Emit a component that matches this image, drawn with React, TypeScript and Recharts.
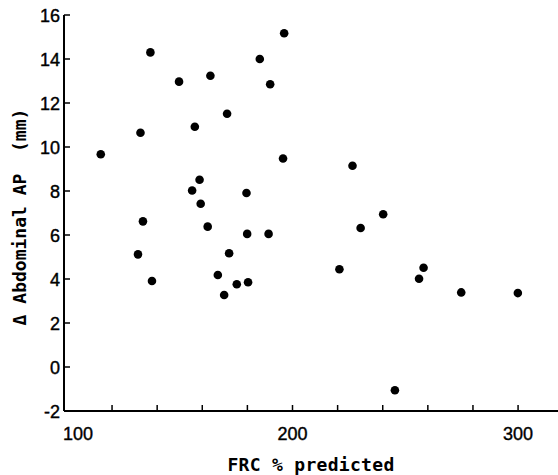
import { ScatterChart, Scatter, XAxis, YAxis } from 'recharts';

// FRC % predicted vs change in abdominal AP diameter
const frcPredicted = [
  115, 137, 132.6, 149.7, 163.6, 156.7, 171, 185.5, 190.1, 155.5, 158.8, 159.3,
  179.6, 133.7, 162.4, 179.9, 189.4, 131.5, 137.7, 166.9, 171.9, 169.7, 175.3,
  180.3, 196.3, 195.8, 226.6, 240.2, 230.2, 220.8, 256.1, 258.1, 274.8, 299.9, 245.4,
];
const deltaAbdominalAP = [
  9.67, 14.3, 10.65, 12.97, 13.24, 10.92, 11.51, 14.0, 12.85, 8.02, 8.51, 7.42,
  7.91, 6.62, 6.38, 6.05, 6.05, 5.12, 3.91, 4.18, 5.17, 3.27, 3.76,
  3.85, 15.17, 9.48, 9.15, 6.94, 6.32, 4.44, 4.01, 4.51, 3.39, 3.36, -1.06,
];
const xTicks = [100, 120, 140, 160, 180, 200, 220, 240, 260, 280, 300];
const xLabelled = [100, 200, 300];
const yTicks = [-2, 0, 2, 4, 6, 8, 10, 12, 14, 16];

const data = frcPredicted.map((x, i) => ({ x, y: deltaAbdominalAP[i] }));

const tickFont = '"Liberation Sans", Arial, sans-serif';
const labelFont = '"DejaVu Sans Mono", monospace';

const XTick = ({ x, y, payload }: any) => {
  const v = payload.value;
  return (
    <g>
      {v !== 100 && <line x1={x} x2={x} y1={y} y2={y - 6} stroke="#000" strokeWidth={1.5} />}
      {xLabelled.includes(v) && (
        <text
          x={v === 100 ? x + 11 : x}
          y={y + 29}
          textAnchor="middle"
          fontFamily={tickFont}
          fontSize={18}
          fill="#000"
          stroke="#000"
          strokeWidth={0.4}
        >
          {v}
        </text>
      )}
    </g>
  );
};

const YTick = ({ x, y, payload }: any) => {
  const v = payload.value;
  return (
    <g>
      {v !== -2 && <line x1={x} x2={x + 6} y1={y} y2={y} stroke="#000" strokeWidth={1.5} />}
      <text
        x={x - 4}
        y={y + 6.5}
        textAnchor="end"
        fontFamily={tickFont}
        fontSize={18}
        fill="#000"
        stroke="#000"
        strokeWidth={0.4}
      >
        {v}
      </text>
    </g>
  );
};

const YLabel = ({ viewBox }: any) => {
  const cx = viewBox.x + 19;
  const cy = viewBox.y + viewBox.height / 2 + 4;
  return (
    <text
      x={cx}
      y={cy}
      transform={`rotate(-90, ${cx}, ${cy})`}
      textAnchor="middle"
      dominantBaseline="central"
      fontFamily={labelFont}
      fontWeight="bold"
      fontSize={18}
      fill="#000"
      style={{ whiteSpace: 'pre' }}
    >
      {'Δ Abdominal AP  (mm)'}
    </text>
  );
};

const XLabel = ({ viewBox }: any) => (
  <text
    x={viewBox.x + viewBox.width / 2}
    y={viewBox.y + 60}
    textAnchor="middle"
    fontFamily={labelFont}
    fontWeight="bold"
    fontSize={18}
    letterSpacing={0.3}
    fill="#000"
  >
    FRC % predicted
  </text>
);

export default function App() {
  return (
    <div style={{ position: 'absolute', left: 0, top: 0, width: 558, height: 475, background: '#fff' }}>
      <ScatterChart width={558} height={475} margin={{ top: 15, right: 0, left: 0, bottom: 0 }}>
        <XAxis
          type="number"
          dataKey="x"
          domain={[98.7, 317.7]}
          ticks={xTicks}
          interval={0}
          height={64}
          tickSize={0}
          tickMargin={0}
          tickLine={false}
          axisLine={{ stroke: '#000', strokeWidth: 2 }}
          tick={<XTick />}
          label={<XLabel />}
          allowDataOverflow
        />
        <YAxis
          type="number"
          dataKey="y"
          domain={[-2, 16]}
          ticks={yTicks}
          interval={0}
          width={64}
          tickSize={0}
          tickMargin={0}
          tickLine={false}
          axisLine={{ stroke: '#000', strokeWidth: 2 }}
          tick={<YTick />}
          label={<YLabel />}
          allowDataOverflow
        />
        <Scatter
          data={data}
          isAnimationActive={false}
          shape={(p: any) => <circle cx={p.cx} cy={p.cy} r={4.3} fill="#000" />}
        />
      </ScatterChart>
    </div>
  );
}
